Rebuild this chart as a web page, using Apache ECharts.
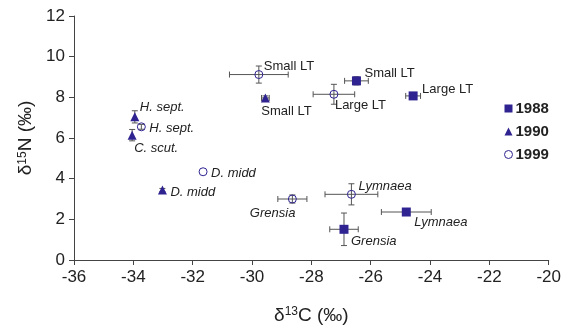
<!DOCTYPE html>
<html>
<head>
<meta charset="utf-8">
<script src="https://cdn.jsdelivr.net/npm/echarts@6/dist/echarts.min.js"></script>
<style>
html,body{margin:0;padding:0;background:#fff;}
#chart{width:564px;height:330px;}
</style>
</head>
<body>
<div id="chart"></div>
<script>
// 数据 1988 / 1990 / 1999
var years = ['1988', '1990', '1999'];

var names1988 = ['Small LT', 'Large LT', 'Lymnaea', 'Grensia'];
var c1988 = [-26.48, -24.57, -24.80, -26.90];
var n1988 = [8.81, 8.07, 2.36, 1.51];
var cErr1988 = [0.40, 0.25, 0.84, 0.48];
var nErr1988 = [0.20, 0.12, 0.05, 0.80];

var names1990 = ['H. sept.', 'C. scut.', 'Small LT', 'D. midd'];
var c1990 = [-33.95, -34.04, -29.55, -33.02];
var n1990 = [7.04, 6.14, 7.97, 3.44];
var cErr1990 = [0.05, 0.05, 0.13, 0.05];
var nErr1990 = [0.30, 0.28, 0.10, 0.08];

var names1999 = ['Small LT', 'Large LT', 'H. sept.', 'D. midd', 'Grensia', 'Lymnaea'];
var c1999 = [-29.77, -27.24, -33.73, -31.65, -28.64, -26.65];
var n1999 = [9.12, 8.15, 6.55, 4.34, 3.00, 3.23];
var cErr1999 = [0.99, 0.70, 0.05, 0.03, 0.49, 0.89];
var nErr1999 = [0.42, 0.49, 0.12, 0.05, 0.20, 0.52];

var xTicks = [-36, -34, -32, -30, -28, -26, -24, -22, -20];
var yTicks = [0, 2, 4, 6, 8, 10, 12];

// 标签位置 (px 偏移)
var lab1988 = [[8, -7, 'left'], [9, -6, 'left'], [8, 10, 'left'], [7, 12, 'left']];
var lab1990 = [[5, -9, 'left'], [2, 13, 'left'], [-4, 13, 'left'], [8, 2, 'left']];
var lab1999 = [[5, -8, 'left'], [1, 11, 'left'], [8, 2, 'left'], [8, 2, 'left'], [3, 14, 'right'], [7, -8, 'left']];

var color = '#2e2390';
var font = 'Liberation Sans';

function buildPoints(names, cs, ns, labs) {
	var arr = [];
	for (var i = 0; i < names.length; i++) {
		var italic = !/LT$/.test(names[i]);
		arr.push({
			name: names[i],
			value: [cs[i], ns[i]],
			label: {
				show: true,
				position: 'inside',
				formatter: names[i],
				offset: [labs[i][0], labs[i][1]],
				align: labs[i][2],
				verticalAlign: 'middle',
				fontStyle: italic ? 'italic' : 'normal',
				fontSize: 13,
				fontFamily: font,
				color: '#222'
			}
		});
	}
	return arr;
}

function buildErr(cs, ns, ce, ne) {
	var arr = [];
	for (var i = 0; i < cs.length; i++) {
		arr.push([cs[i], ns[i], ce[i], ne[i]]);
	}
	return arr;
}

var errData = [].concat(
	buildErr(c1988, n1988, cErr1988, nErr1988),
	buildErr(c1990, n1990, cErr1990, nErr1990),
	buildErr(c1999, n1999, cErr1999, nErr1999)
);

function renderErr(params, api) {
	var x = api.value(0), y = api.value(1), ex = api.value(2), ey = api.value(3);
	var l = api.coord([x - ex, y]), r = api.coord([x + ex, y]);
	var t = api.coord([x, y + ey]), b = api.coord([x, y - ey]);
	var cap = 3;
	var st = {stroke: '#555', lineWidth: 1};
	var kids = [];
	if (r[0] - l[0] > 3) {
		kids.push({type: 'line', shape: {x1: l[0], y1: l[1], x2: r[0], y2: r[1]}, style: st});
		kids.push({type: 'line', shape: {x1: l[0], y1: l[1] - cap, x2: l[0], y2: l[1] + cap}, style: st});
		kids.push({type: 'line', shape: {x1: r[0], y1: r[1] - cap, x2: r[0], y2: r[1] + cap}, style: st});
	}
	if (b[1] - t[1] > 3) {
		kids.push({type: 'line', shape: {x1: t[0], y1: t[1], x2: b[0], y2: b[1]}, style: st});
		kids.push({type: 'line', shape: {x1: t[0] - cap, y1: t[1], x2: t[0] + cap, y2: t[1]}, style: st});
		kids.push({type: 'line', shape: {x1: b[0] - cap, y1: b[1], x2: b[0] + cap, y2: b[1]}, style: st});
	}
	return {type: 'group', children: kids};
}

var chart = echarts.init(document.getElementById('chart'));
var option = {
	animation: false,
	textStyle: {fontFamily: font},
	grid: {left: 74, right: 15, top: 16, bottom: 70},
	legend: {
		orient: 'vertical',
		left: 499,
		top: 96,
		itemWidth: 8,
		itemHeight: 8,
		itemGap: 8,
		data: [
			{name: years[0]},
			{name: years[1]},
			{name: years[2], icon: 'circle', itemStyle: {color: '#fff', borderColor: color, borderWidth: 1}}
		],
		textStyle: {fontSize: 15, fontWeight: 'bold', color: '#222', fontFamily: font, padding: [0, 0, 0, -2]}
	},
	xAxis: {
		type: 'value',
		min: -36,
		max: -20,
		interval: 2,
		name: '{d|δ}{s|13}{d|C (‰)}',
		nameLocation: 'middle',
		nameGap: 46,
		nameTextStyle: {
			rich: {
				d: {fontSize: 19, fontFamily: font, color: '#222'},
				s: {fontSize: 12, fontFamily: font, color: '#222', verticalAlign: 'top', padding: [0, 0, 6, 0]}
			}
		},
		axisLine: {lineStyle: {color: '#444'}},
		axisTick: {length: 5, lineStyle: {color: '#444'}},
		axisLabel: {fontSize: 17, color: '#222', margin: 9, formatter: function (v) { return xTicks.indexOf(v) >= 0 ? String(v) : ''; }},
		splitLine: {show: false}
	},
	yAxis: {
		type: 'value',
		min: 0,
		max: 12,
		interval: 2,
		name: '{d|δ}{s|15}{d|N (‰)}',
		nameLocation: 'middle',
		nameGap: 35,
		nameTextStyle: {
			rich: {
				d: {fontSize: 19, fontFamily: font, color: '#222'},
				s: {fontSize: 12, fontFamily: font, color: '#222', verticalAlign: 'top', padding: [0, 0, 6, 0]}
			}
		},
		axisLine: {show: true, lineStyle: {color: '#444'}},
		axisTick: {show: true, length: 5, lineStyle: {color: '#444'}},
		axisLabel: {fontSize: 17, color: '#222', margin: 9, formatter: function (v) { return yTicks.indexOf(v) >= 0 ? String(v) : ''; }},
		splitLine: {show: false}
	},
	series: [
		{
			type: 'custom',
			renderItem: renderErr,
			data: errData,
			z: 1,
			silent: true
		},
		{
			name: '1988',
			type: 'scatter',
			symbol: 'rect',
			symbolSize: 9,
			itemStyle: {color: color, opacity: 1},
			data: buildPoints(names1988, c1988, n1988, lab1988),
			z: 3
		},
		{
			name: '1990',
			type: 'scatter',
			symbol: 'triangle',
			symbolSize: 9,
			itemStyle: {color: color, opacity: 1},
			data: buildPoints(names1990, c1990, n1990, lab1990),
			z: 3
		},
		{
			name: '1999',
			type: 'scatter',
			symbol: 'circle',
			symbolSize: 8,
			itemStyle: {color: 'rgba(255,255,255,0)', borderColor: color, borderWidth: 1, opacity: 1},
			data: buildPoints(names1999, c1999, n1999, lab1999),
			z: 3
		}
	]
};
chart.setOption(option);
</script>
</body>
</html>
